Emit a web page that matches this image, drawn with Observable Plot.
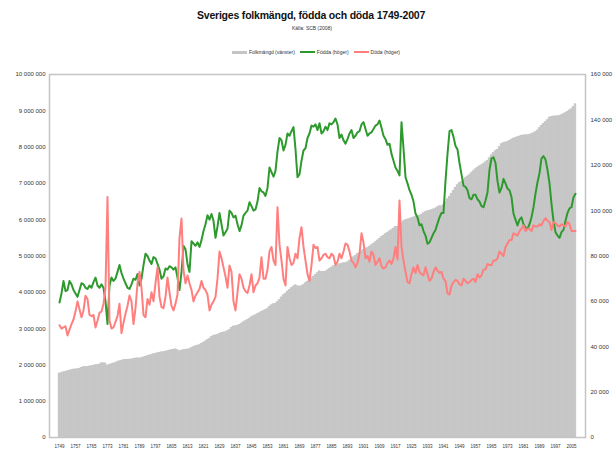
<!DOCTYPE html>
<html>
<head>
<meta charset="utf-8">
<script src="https://cdn.jsdelivr.net/npm/d3@7"></script>
<script src="https://cdn.jsdelivr.net/npm/@observablehq/plot@0.6"></script>
<style>
  html, body { margin: 0; padding: 0; background: #fff; }
  body { width: 615px; height: 451px; overflow: hidden; font-family: "Liberation Sans", Arial, sans-serif; }
  #head { position: relative; height: 60px; }
  #title { position: absolute; top: 9px; left: 0; width: 622px; text-align: center; font-weight: bold; font-size: 10.5px; color: #111; letter-spacing: -0.2px; }
  #sub { position: absolute; top: 25px; left: 0; width: 624px; text-align: center; font-size: 5px; color: #333; }
  #legend { position: absolute; top: 49px; left: 232px; font-size: 5px; color: #333; white-space: nowrap; display: flex; align-items: center; }
  .sw { display: inline-block; width: 15px; margin-right: 2px; }
  .item { display: inline-flex; align-items: center; margin-right: 5px; }
</style>
</head>
<body>
<div id="head">
  <div id="title">Sveriges folkmängd, födda och döda 1749-2007</div>
  <div id="sub">Källa: SCB (2008)</div>
  <div id="legend">
    <span class="item"><span class="sw" style="height:3px;background:#c4c4c4"></span>Folkmängd (vänster)</span>
    <span class="item"><span class="sw" style="height:2px;background:#2e9a2e"></span>Födda (höger)</span>
    <span class="item"><span class="sw" style="height:2px;background:#ff7f7f"></span>Döda (höger)</span>
  </div>
</div>
<div id="chart"></div>
<script>
// Years 1749-2007
const years = d3.range(1749, 2008);

// Population (thousands), left axis
const populationThousands = [
1765,1781,1797,1811,1828,1845,1861,1874,1877,1882,
1898,1925,1940,1945,1946,1957,1968,1981,1995,2004,
2013,2043,2048,2042,1986,2005,2021,2040,2058,2080,
2098,2118,2133,2142,2146,2149,2152,2164,2177,2181,
2179,2188,2207,2228,2245,2261,2275,2292,2308,2323,
2335,2347,2353,2367,2381,2396,2412,2421,2430,2412,
2381,2396,2411,2421,2424,2434,2465,2493,2513,2533,
2547,2585,2616,2648,2687,2722,2771,2800,2814,2832,
2857,2888,2894,2902,2933,2960,3025,3059,3069,3084,
3105,3139,3174,3205,3240,3276,3316,3344,3366,3397,
3426,3462,3491,3512,3542,3601,3641,3672,3688,3734,
3788,3860,3917,3966,4022,4070,4115,4161,4196,4173,
4159,4169,4205,4251,4297,4341,4383,4429,4485,4531,
4579,4566,4569,4573,4604,4645,4682,4718,4734,4749,
4774,4785,4803,4806,4825,4873,4919,4963,5009,5055,
5080,5136,5176,5200,5221,5260,5294,5338,5377,5429,
5476,5522,5562,5604,5639,5679,5713,5757,5807,5800,
5830,5904,5955,5987,6006,6021,6045,6064,6081,6097,
6113,6142,6176,6212,6234,6251,6266,6285,6310,6341,
6371,6371,6406,6491,6566,6636,6719,6803,6884,6956,
7014,7042,7099,7150,7192,7235,7290,7341,7389,7436,
7471,7498,7542,7581,7627,7695,7773,7843,7893,7931,
8004,8081,8115,8129,8144,8177,8208,8236,8255,8275,
8294,8318,8323,8328,8330,8343,8358,8382,8415,8458,
8527,8591,8644,8692,8745,8816,8837,8844,8847,8854,
8861,8883,8909,8941,8976,9011,9048,9113,9183
];

// Births (thousands), right axis
const birthsThousands = [
59.5,63.5,69.0,64.5,65.0,69.0,67.5,65.0,63.5,62.0,
65.0,68.0,67.5,66.0,65.5,67.0,66.0,68.5,70.5,67.0,
66.0,67.5,66.0,60.0,50.0,67.0,70.5,69.0,70.0,73.0,
76.0,72.5,70.0,68.0,66.0,65.5,67.5,70.0,69.5,72.0,
67.0,70.0,76.0,81.0,80.0,78.0,76.5,79.5,79.0,76.5,
74.0,70.0,71.0,74.5,74.0,75.5,75.0,74.0,75.0,70.5,
65.0,73.0,84.5,83.0,76.5,73.0,86.5,85.5,84.5,86.0,
84.0,87.0,91.0,94.0,98.0,96.0,98.5,95.5,88.0,93.0,
99.0,94.0,89.0,90.5,92.0,100.0,99.0,97.0,97.8,94.0,
91.0,93.5,97.8,99.0,100.0,103.7,102.0,100.0,100.5,104.0,
110.0,108.5,108.0,106.5,110.0,119.0,117.0,115.0,117.5,126.0,
132.0,131.0,126.5,129.0,134.0,133.0,135.0,136.8,127.0,114.7,
116.0,122.0,126.5,127.5,132.0,134.0,137.5,137.0,138.0,135.5,
138.5,134.0,135.0,137.0,135.5,138.5,138.0,139.0,140.6,138.0,
132.0,133.5,131.0,129.5,131.5,134.0,135.5,132.0,133.0,134.5,
135.0,138.0,139.0,136.0,133.0,134.0,134.5,136.0,137.5,138.0,
139.7,136.5,133.0,131.5,129.0,129.5,125.0,122.0,119.0,117.5,
115.5,139.0,127.5,114.7,112.0,109.0,107.0,104.0,98.7,97.0,
93.5,94.0,91.0,89.0,85.4,86.0,88.0,90.0,91.5,94.3,
97.0,99.0,99.0,113.0,125.0,135.0,135.5,132.5,128.5,127.0,
121.0,116.0,111.0,110.5,109.0,105.5,105.0,107.0,107.0,105.0,
104.0,102.0,101.5,104.5,108.0,118.0,123.0,123.5,121.0,113.0,
108.0,110.0,114.0,112.0,109.7,109.0,106.0,98.7,96.0,93.5,
96.0,97.0,94.0,92.5,92.0,94.0,97.0,101.5,107.5,112.5,
116.5,123.0,124.0,122.5,118.0,112.0,103.0,95.5,90.5,89.0,
88.0,90.5,91.5,95.5,99.0,101.0,101.5,105.9,107.4
];

// Deaths (thousands), right axis
const deathsThousands = [
49.5,48.0,48.5,49.0,45.0,47.5,50.0,52.0,55.5,60.0,
56.5,53.0,56.0,62.5,61.0,54.0,53.5,54.0,48.5,51.5,
55.0,55.5,59.0,66.0,106.0,51.6,48.0,48.5,51.0,53.5,
59.0,46.0,50.5,54.6,58.0,62.6,60.0,50.0,57.0,68.0,
73.0,66.0,54.0,53.0,61.0,58.5,64.0,60.0,68.0,75.0,
62.0,57.5,57.0,62.0,70.5,64.0,58.0,56.0,59.0,63.0,
88.0,96.5,73.6,68.0,71.4,68.0,65.0,60.0,62.5,64.0,
65.5,69.0,66.0,65.0,63.0,56.0,58.5,60.0,62.0,70.0,
82.0,79.0,75.0,71.0,66.0,75.8,73.0,60.0,56.0,64.0,
72.0,70.0,66.0,64.5,63.7,67.0,72.0,64.0,67.0,68.0,
70.5,79.5,70.0,70.0,74.0,82.0,84.0,78.0,76.0,101.5,
85.0,78.0,70.0,67.0,84.0,79.0,76.0,77.0,81.0,79.0,
88.0,92.7,84.0,78.0,72.0,69.0,76.0,85.0,83.5,84.0,
78.0,79.0,80.5,81.0,79.5,79.0,81.0,80.0,76.0,77.5,
81.0,79.0,82.0,85.5,85.0,82.0,78.0,77.0,75.0,77.0,
81.0,90.0,86.0,79.0,80.0,77.5,82.0,80.5,76.0,77.5,
79.0,75.5,74.5,75.0,77.0,78.0,76.5,79.0,84.0,78.5,
104.5,84.0,78.0,73.0,68.5,68.0,72.0,75.0,72.5,76.0,
73.0,72.0,71.5,75.0,72.0,69.0,70.0,73.0,75.0,73.5,
72.6,73.0,70.0,69.0,63.5,63.0,67.0,68.5,69.5,69.0,
67.5,67.0,70.0,69.0,68.0,68.5,69.5,70.0,68.5,72.0,
70.5,71.5,74.0,74.0,76.5,76.0,76.0,78.0,78.0,79.0,
82.0,81.0,80.0,84.0,85.5,87.0,87.0,90.0,89.5,89.0,
91.0,92.0,93.5,91.0,92.0,92.0,91.0,93.5,93.0,93.0,
94.0,93.5,95.5,96.7,95.5,95.0,91.5,95.0,94.5,93.5,
93.0,94.0,93.5,93.0,95.0,94.0,91.0,91.0,91.0,91.5
];

// Tick values
const leftTicks = [0,1000000,2000000,3000000,4000000,5000000,6000000,7000000,8000000,9000000,10000000];
const rightTicks = [0,20000,40000,60000,80000,100000,120000,140000,160000];
const xTickYears = years.filter((y, i) => i % 8 === 0);

const rows = years.map((year, i) => ({
  year,
  pop: populationThousands[i] * 1000,
  births: birthsThousands[i] * 1000,
  deaths: deathsThousands[i] * 1000
}));

const ratio = 10000000 / 160000; // right axis -> left axis units
const fmt = d3.formatLocale({decimal: ",", thousands: "\u00a0", grouping: [3], currency: ["", ""]}).format(",d");

const chart = Plot.plot({
  width: 615,
  height: 391,
  marginTop: 14,
  marginBottom: 14,
  marginLeft: 49,
  marginRight: 30,
  style: {fontFamily: "Liberation Sans, Arial, sans-serif", fontSize: "6px", color: "#333", background: "#fff"},
  x: {type: "band", domain: years, paddingInner: 0, paddingOuter: 0.2},
  y: {domain: [0, 10000000]},
  marks: [
    Plot.barY(rows, {x: "year", y: "pop", fill: "#cbcbcb", stroke: "#b9b9b9", strokeWidth: 0.3}),
    Plot.frame({stroke: "#c4c4c4", strokeWidth: 1.5}),
    Plot.lineY(rows, {x: "year", y: d => d.births * ratio, stroke: "#2e9a2e", strokeWidth: 2}),
    Plot.lineY(rows, {x: "year", y: d => d.deaths * ratio, stroke: "#ff7f7f", strokeWidth: 2}),
    Plot.axisY({ticks: leftTicks, tickFormat: fmt, tickSize: 0, tickPadding: 4, label: null, fontSize: 6}),
    Plot.axisY({anchor: "right", ticks: rightTicks.map(v => v * ratio), tickFormat: d => fmt(Math.round(d / ratio)), tickSize: 0, tickPadding: 5, label: null, fontSize: 6}),
    Plot.axisX({ticks: xTickYears, tickFormat: d => String(d), tickSize: 0, tickPadding: 7, label: null, fontSize: 4.5})
  ]
});
document.getElementById("chart").appendChild(chart);
</script>
</body>
</html>
